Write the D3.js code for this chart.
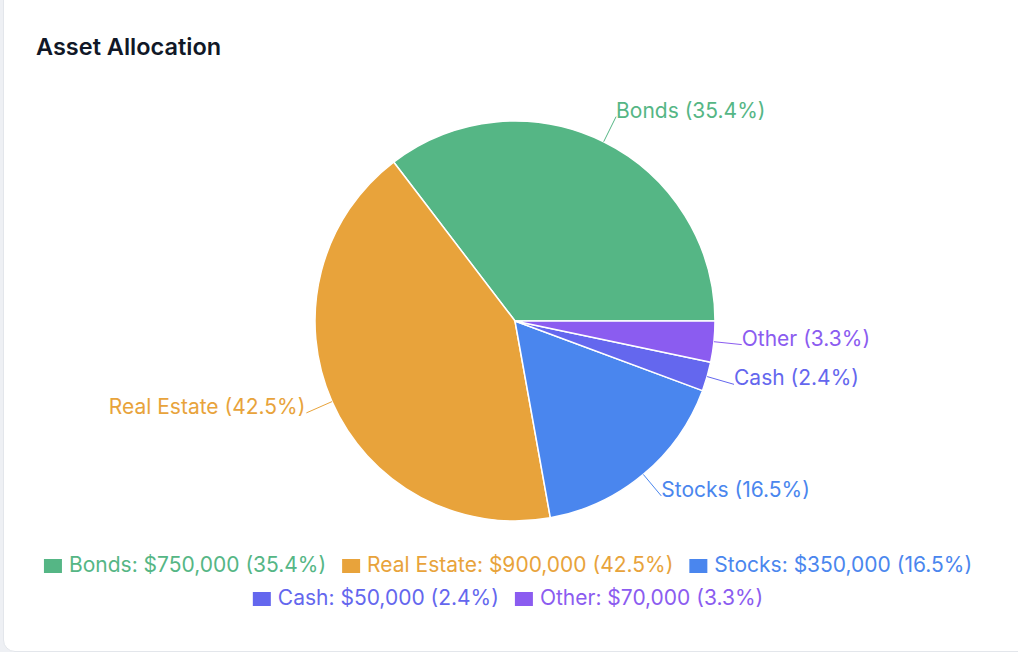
<!DOCTYPE html>
<html>
<head>
<meta charset="utf-8">
<script src="https://cdn.jsdelivr.net/npm/d3@7"></script>
<style>
  html, body { margin: 0; padding: 0; background: #eef0f4; overflow: hidden; }
  .card {
    position: absolute; left: 3px; top: -14px; width: 1040px; height: 664px;
    background: #fff; border: 1px solid #e3e6eb; border-radius: 12px;
  }
  svg { position: absolute; left: 0; top: 0; font-family: Inter, "Noto Sans", sans-serif; }
</style>
</head>
<body>
<div class="card"></div>
<svg width="1018" height="652"></svg>
<script>
// data
const categories = ["Bonds", "Real Estate", "Stocks", "Cash", "Other"];
const values = [750000, 900000, 350000, 50000, 70000];
const colors = ["#55b685", "#e8a33b", "#4a86ee", "#6467ee", "#8b5cf0"];

const svg = d3.select("svg");
const total = d3.sum(values);
const pct = v => (v / total * 100).toFixed(1);

// title
svg.append("text")
  .attr("x", 36)
  .attr("y", 55)
  .attr("font-size", 23.5)
  .attr("font-weight", 600)
  .attr("fill", "#111827")
  .text("Asset Allocation");

// pie, counter-clockwise from 3 o'clock
const cx = 515, cy = 321, r = 200;
const pie = d3.pie().sort(null).value(d => d.value)
  .startAngle(Math.PI / 2)
  .endAngle(Math.PI / 2 - 2 * Math.PI);
const arc = d3.arc().innerRadius(0).outerRadius(r);

const data = categories.map((c, i) => ({ name: c, value: values[i], color: colors[i] }));
const arcs = pie(data);

const g = svg.append("g").attr("transform", `translate(${cx},${cy})`);

g.selectAll("path.slice")
  .data(arcs)
  .join("path")
  .attr("class", "slice")
  .attr("d", arc)
  .attr("fill", d => d.data.color)
  .attr("stroke", "#fff")
  .attr("stroke-width", 1.5)
  .attr("stroke-linejoin", "round");

// leader lines + labels
const r2 = r + 28;
arcs.forEach(d => {
  const a = (d.startAngle + d.endAngle) / 2;
  const x1 = Math.sin(a) * r, y1 = -Math.cos(a) * r;
  const x2 = Math.sin(a) * r2, y2 = -Math.cos(a) * r2;
  g.append("line")
    .attr("x1", x1).attr("y1", y1)
    .attr("x2", x2).attr("y2", y2)
    .attr("stroke", d.data.color)
    .attr("stroke-width", 1);
  const right = x2 >= 0;
  g.append("text")
    .attr("x", right ? x2 : x2 - 1)
    .attr("y", y2 + 1)
    .attr("text-anchor", right ? "start" : "end")
    .attr("font-size", 21)
    .attr("fill", d.data.color)
    .text(`${d.data.name} (${pct(d.data.value)}%)`);
});

// legend
const legend = svg.append("g");
const fmt = d3.format(",");
const items = data.map(d => {
  const it = legend.append("g");
  it.append("rect").attr("width", 18).attr("height", 14).attr("y", -13).attr("fill", d.color);
  const t = it.append("text")
    .attr("x", 25)
    .attr("font-size", 21)
    .attr("fill", d.color)
    .text(`${d.name}: $${fmt(d.value)} (${pct(d.value)}%)`);
  return { g: it, w: 25 + t.node().getComputedTextLength() };
});

const maxW = 960, gap = 16, centerX = 508, rowY = [572, 605];
let rows = [[]], rowW = [0];
items.forEach(it => {
  const k = rows.length - 1;
  const add = (rows[k].length ? gap : 0) + it.w;
  if (rowW[k] + add > maxW && rows[k].length) {
    rows.push([it]); rowW.push(it.w);
  } else {
    rows[k].push(it); rowW[k] += add;
  }
});
rows.forEach((row, ri) => {
  let x = centerX - rowW[ri] / 2;
  row.forEach(it => {
    it.g.attr("transform", `translate(${x},${rowY[ri]})`);
    x += it.w + gap;
  });
});
</script>
</body>
</html>
